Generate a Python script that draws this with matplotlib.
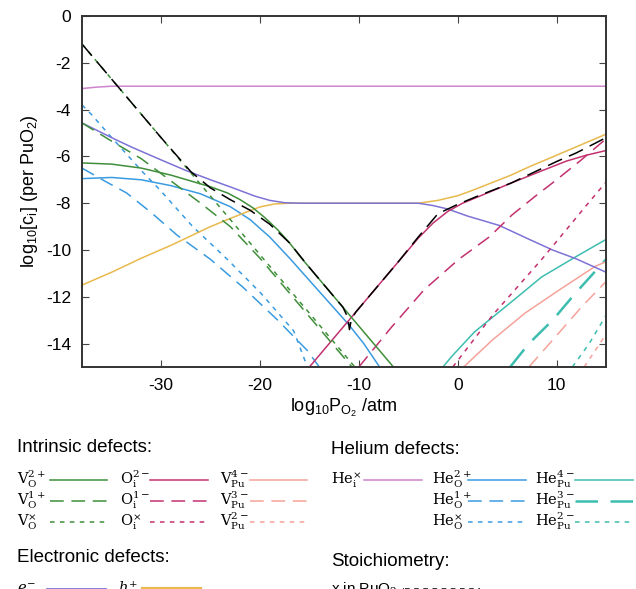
import numpy as np
import matplotlib.pyplot as plt
from matplotlib.lines import Line2D

plt.rcParams['font.family'] = ['Liberation Sans', 'DejaVu Sans']
plt.rcParams['mathtext.fontset'] = 'dejavuserif'
plt.rcParams['axes.unicode_minus'] = False

# ---- data (log10 P_O2 in atm, log10 concentration) ----
hei_x = [-38, -36.5, -35, -30, 15]
hei_y = [-3.1, -3.04, -3.0, -3.0, -3.0]

elec_x = [-38, -35, -33, -30, -27.5, -25, -22.7, -20.5, -19, -17.5, -16, -10, -4, -2.5, -1, 1, 4.2, 7, 9.6, 12, 15]
elec_y = [-4.57, -5.2, -5.6, -6.15, -6.6, -7.0, -7.35, -7.7, -7.88, -7.98, -8.0, -8.0, -8.0, -8.1, -8.25, -8.55, -8.95, -9.5, -10.0, -10.38, -10.95]

hole_x = [-38, -35, -32, -29, -27, -25, -23, -21.5, -20, -18.5, -17, -4, -2, 0, 1.5, 3, 5.4, 7.2, 10, 12.5, 15]
hole_y = [-11.5, -10.95, -10.35, -9.8, -9.4, -9.0, -8.65, -8.4, -8.16, -8.03, -8.0, -8.0, -7.88, -7.68, -7.45, -7.2, -6.8, -6.45, -5.95, -5.5, -5.05]

vo2_x = [-38, -35, -32, -29, -27, -25, -23.3, -22, -20.7, -19.5, -18.2, -17, -15.9, -13, -11, -9, -6.5]
vo2_y = [-6.28, -6.33, -6.5, -6.8, -7.05, -7.3, -7.56, -7.85, -8.2, -8.62, -9.14, -9.7, -10.3, -11.75, -12.75, -13.75, -15]
vo1_x = [-38, -35, -32, -29, -26, -23, -20, -17, -14, -10.7]
vo1_y = [-4.57, -5.35, -6.1, -7.05, -8.0, -9.0, -10.35, -11.85, -13.35, -15]
vox_x = [-38, -31, -24, -17, -10.4]
vox_y = [-1.2, -4.7, -8.2, -11.7, -15.0]

oi2_x = [-15, -11, -7, -4, -2.5, -1, 0.5, 2.5, 5.4, 8, 11, 13, 15]
oi2_y = [-15, -13.0, -11.0, -9.5, -8.85, -8.35, -8.0, -7.65, -7.14, -6.7, -6.2, -5.95, -5.75]
oi1_x = [-10, -6.7, -3.4, 0.1, 3.2, 5.5, 8, 10, 12.5, 15]
oi1_y = [-15, -13.3, -11.7, -10.4, -9.44, -8.5, -7.65, -7.0, -6.15, -5.25]
oix_x = [-0.5, 3.5, 8.5, 13.3, 15]
oix_y = [-15, -12.8, -10.4, -7.95, -7.1]

vpu4_x = [0.6, 3.5, 6.8, 10.3, 13.9, 15]
vpu4_y = [-15, -13.85, -12.7, -11.7, -10.7, -10.5]
vpu3_x = [7.2, 9.6, 12.6, 15]
vpu3_y = [-15, -13.85, -12.4, -11.35]
vpu2_x = [12.8, 15]
vpu2_y = [-15, -13.6]

heo2_x = [-38, -35, -32, -29, -26, -23, -21, -19, -17, -15, -13, -11, -9.5, -7.9]
heo2_y = [-6.95, -6.9, -7.0, -7.25, -7.6, -8.15, -8.7, -9.45, -10.35, -11.3, -12.25, -13.2, -14.0, -15]
heo1_x = [-38, -35.5, -33.5, -31, -28.4, -25, -21.7, -18.2, -15.2, -14]
heo1_y = [-6.5, -7.1, -7.56, -8.4, -9.36, -10.4, -11.6, -13.0, -14.3, -15]
heox_x = [-38, -37, -35.2, -33.6, -31.9, -30.1, -26.8, -23.3, -19.9, -16.6, -15.2]
heox_y = [-3.8, -4.23, -5.1, -5.85, -6.65, -7.44, -9.0, -10.4, -11.85, -13.45, -15.0]

hepu4_x = [-1.5, -0.5, 1.7, 5.2, 8.5, 11.9, 15]
hepu4_y = [-15, -14.5, -13.5, -12.3, -11.15, -10.3, -9.55]
hepu3_x = [5.3, 7.2, 9.6, 11.9, 15]
hepu3_y = [-15, -14.0, -13.0, -11.85, -10.4]
hepu2_x = [11.6, 13.3, 15]
hepu2_y = [-15, -14.0, -12.8]

stoich_x = [-38, -34, -30, -27, -25, -23, -21, -19, -17, -15, -13, -11.6, -11.1, -10.95, -10.75,
            -10.3, -9.8, -8, -6, -4, -2, 0, 2, 5.4, 8, 10, 12, 15]
stoich_y = [-1.2, -3.2, -5.2, -6.65, -7.35, -7.85, -8.3, -8.9, -9.7, -10.75, -11.75, -12.45, -12.9, -13.4, -12.95,
            -12.65, -12.4, -11.5, -10.5, -9.45, -8.45, -8.05, -7.7, -7.14, -6.62, -6.22, -5.85, -5.2]

x_ticks = [-30, -20, -10, 0, 10]
y_ticks = [0, -2, -4, -6, -8, -10, -12, -14]

# colours / line styles
GREEN = '#3f8f3a'
MAG = '#c3316f'
SALMON = '#f5a39a'
ORCHID = '#cc85cc'
BLUE = '#3a9be0'
TEAL = '#3dbdaf'
PURPLE = '#7d72d6'
GOLD = '#e8b94c'
SOLID = '-'
DASH = (0, (9, 5))
DOT = (0, (3, 3.5))
LW = 1.1

W, H = 636, 589
fig = plt.figure(figsize=(W / 100, H / 100), dpi=100)
ax = fig.add_axes([82 / W, 1 - 367 / H, (606 - 82) / W, (367 - 16) / H])

series = [
    (hepu4_x, hepu4_y, TEAL, SOLID, LW),
    (hepu3_x, hepu3_y, TEAL, DASH, 1.8),
    (hepu2_x, hepu2_y, TEAL, DOT, LW),
    (vpu4_x, vpu4_y, SALMON, SOLID, LW),
    (vpu3_x, vpu3_y, SALMON, DASH, LW),
    (vpu2_x, vpu2_y, SALMON, DOT, LW),
    (heo2_x, heo2_y, BLUE, SOLID, LW),
    (heo1_x, heo1_y, BLUE, DASH, LW),
    (heox_x, heox_y, BLUE, DOT, LW),
    (hei_x, hei_y, ORCHID, SOLID, LW),
    (hole_x, hole_y, GOLD, SOLID, LW),
    (elec_x, elec_y, PURPLE, SOLID, LW),
    (oi2_x, oi2_y, MAG, SOLID, LW),
    (oi1_x, oi1_y, MAG, DASH, LW),
    (oix_x, oix_y, MAG, DOT, LW),
    (vo2_x, vo2_y, GREEN, SOLID, LW),
    (vo1_x, vo1_y, GREEN, DASH, LW),
    (vox_x, vox_y, GREEN, DOT, LW),
    (stoich_x, stoich_y, 'black', (0, (10, 5)), LW),
]
for xs, ys, c, ls, lw in series:
    ax.plot(xs, ys, color=c, linestyle=ls, linewidth=lw)

ax.set_xlim(-38, 15)
ax.set_ylim(-15, 0)
ax.set_xticks(x_ticks)
ax.set_yticks(y_ticks)
ax.set_xticklabels([str(t) for t in x_ticks])
ax.set_yticklabels([str(t) for t in y_ticks])
ax.tick_params(direction='in', top=True, right=True, length=5, width=0.8,
               labelsize=12.5, pad=8, colors='#444444', labelcolor='black')
for s in ax.spines.values():
    s.set_linewidth(1.4)
    s.set_color('#333333')
ax.set_xlabel(r'$\mathregular{log_{10}P_{O_2}}$ /atm', fontsize=13, labelpad=3)
ax.set_ylabel(r'$\mathregular{log_{10}[c_i]}$ (per PuO$\mathregular{_2}$)', fontsize=13, labelpad=4)


# ---- hand-made legend below the axes ----
def fx(px):
    return px / W


def fy(py):
    return 1 - py / H


def key(label, lx, x0, x1, y, color, ls, lw=LW):
    fig.text(fx(lx), fy(y + 4), label, fontsize=10.5, ha='left', va='baseline')
    fig.add_artist(Line2D([fx(x0), fx(x1)], [fy(y), fy(y)], transform=fig.transFigure,
                          color=color, linestyle=ls, linewidth=lw))


rows = [480, 501, 522]
fig.text(fx(17), fy(448), 'Intrinsic defects:', fontsize=13.5, va='center')
fig.text(fx(331), fy(449), 'Helium defects:', fontsize=13.5, va='center')
fig.text(fx(17), fy(558), 'Electronic defects:', fontsize=13.5, va='center')
fig.text(fx(331), fy(562), 'Stoichiometry:', fontsize=13.5, va='center')

intr_labels = [
    [r'$\mathrm{V_O^{2+}}$', r'$\mathrm{V_O^{1+}}$', r'$\mathrm{V_O^{\times}}$'],
    [r'$\mathrm{O_i^{2-}}$', r'$\mathrm{O_i^{1-}}$', r'$\mathrm{O_i^{\times}}$'],
    [r'$\mathrm{V_{Pu}^{4-}}$', r'$\mathrm{V_{Pu}^{3-}}$', r'$\mathrm{V_{Pu}^{2-}}$'],
]
styles = [SOLID, DASH, DOT]
for col, (labs, c, lx, x0, x1) in enumerate(zip(intr_labels, [GREEN, MAG, SALMON],
                                                [17, 120, 220], [50, 150, 250], [107, 208, 307])):
    for r, lab in enumerate(labs):
        key(lab, lx, x0, x1, rows[r], c, styles[r])

key(r'$\mathrm{He_i^{\times}}$', 331, 364, 422, rows[0], ORCHID, SOLID)
heo_labels = [r'$\mathrm{He_O^{2+}}$', r'$\mathrm{He_O^{1+}}$', r'$\mathrm{He_O^{\times}}$']
hepu_labels = [r'$\mathrm{He_{Pu}^{4-}}$', r'$\mathrm{He_{Pu}^{3-}}$', r'$\mathrm{He_{Pu}^{2-}}$']
for r in range(3):
    key(heo_labels[r], 432, 468, 526, rows[r], BLUE, styles[r])
    key(hepu_labels[r], 535, 575, 633, rows[r], TEAL, styles[r], 1.8 if r == 1 else LW)

key(r'$e^{-}$', 17, 47, 105, 589, PURPLE, SOLID, 2)
key(r'$h^{+}$', 118, 143, 200, 589, GOLD, SOLID, 3)
fig.text(fx(331), fy(594), r'x in PuO$_{2\pm x}$', fontsize=11, va='baseline')
fig.add_artist(Line2D([fx(405), fx(480)], [fy(589), fy(589)], transform=fig.transFigure,
                      color='black', linestyle=(0, (3, 3)), linewidth=LW))

fig.savefig('out.png', dpi=100)
